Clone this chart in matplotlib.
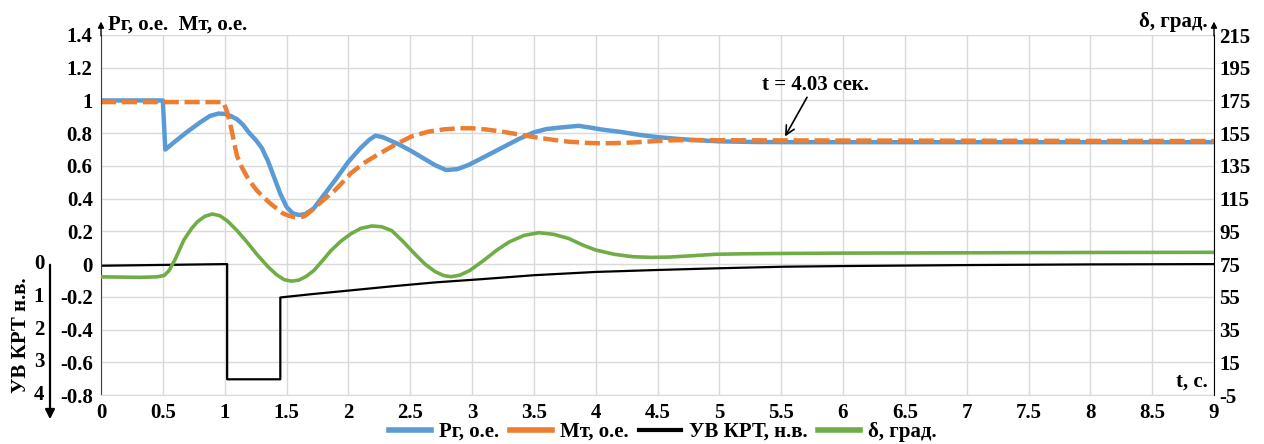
import matplotlib
matplotlib.use('Agg')
import matplotlib.pyplot as plt
from matplotlib.lines import Line2D
from matplotlib.ticker import MultipleLocator, FuncFormatter

# Рг, о.е. (active power)
t_pg = [0, 0.50, 0.52, 0.6, 0.7, 0.8, 0.88, 0.95, 1.0, 1.05, 1.1, 1.15, 1.2, 1.25,
        1.3, 1.35, 1.4, 1.45, 1.5, 1.55, 1.6, 1.65, 1.72, 1.8, 1.9, 2.0, 2.1, 2.17,
        2.22, 2.28, 2.4, 2.5, 2.6, 2.7, 2.79, 2.88, 2.97, 3.1, 3.24, 3.38, 3.5, 3.6,
        3.72, 3.86, 3.95, 4.05, 4.2, 4.35, 4.5, 4.65, 4.8, 5.0, 5.3, 5.6, 6, 7, 8, 9]
pg = [1.0, 1.0, 0.70, 0.75, 0.81, 0.865, 0.905, 0.92, 0.918, 0.905, 0.885, 0.85,
      0.80, 0.76, 0.71, 0.63, 0.53, 0.43, 0.35, 0.31, 0.30, 0.305, 0.34, 0.42,
      0.52, 0.625, 0.71, 0.76, 0.785, 0.775, 0.735, 0.695, 0.65, 0.605, 0.575,
      0.58, 0.605, 0.655, 0.71, 0.765, 0.805, 0.825, 0.835, 0.845, 0.835, 0.822,
      0.808, 0.79, 0.776, 0.766, 0.758, 0.75, 0.746, 0.745, 0.745, 0.745, 0.745,
      0.745]

# Мт, о.е. (turbine torque)
t_mt = [0, 0.99, 1.02, 1.05, 1.08, 1.1, 1.14, 1.18, 1.22, 1.26, 1.32, 1.37, 1.42,
        1.47, 1.52, 1.56, 1.6, 1.65, 1.7, 1.75, 1.82, 1.89, 1.96, 2.02, 2.12, 2.24,
        2.38, 2.51, 2.65, 2.78, 2.9, 3.0, 3.12, 3.24, 3.38, 3.51, 3.65, 3.78, 3.92,
        4.05, 4.2, 4.32, 4.45, 4.6, 4.8, 5.0, 6, 7, 8, 9]
mt = [0.99, 0.99, 0.93, 0.84, 0.73, 0.66, 0.59, 0.535, 0.49, 0.45, 0.405, 0.37,
      0.34, 0.31, 0.295, 0.288, 0.283, 0.295, 0.325, 0.36, 0.405, 0.45, 0.505,
      0.555, 0.615, 0.67, 0.73, 0.78, 0.81, 0.824, 0.83, 0.83, 0.822, 0.81, 0.792,
      0.775, 0.76, 0.748, 0.741, 0.738, 0.74, 0.744, 0.75, 0.756, 0.758, 0.757,
      0.755, 0.754, 0.753, 0.752]

# УВ КРТ, н.в. (axis points down: 0 at top, 4 at bottom)
t_uv = [0, 1.02, 1.02, 1.45, 1.45, 1.7, 2.0, 2.35, 2.7, 3.08, 3.5, 4.0, 4.5, 4.97,
        5.52, 6, 7, 8, 9]
uv = [0.05, 0.0, 3.52, 3.52, 1.02, 0.92, 0.81, 0.68, 0.56, 0.46, 0.34, 0.24, 0.18,
      0.13, 0.08, 0.06, 0.03, 0.01, 0.0]

# δ, град.
t_d = [0, 0.32, 0.45, 0.51, 0.55, 0.6, 0.67, 0.73, 0.78, 0.84, 0.9, 0.96, 1.02,
       1.1, 1.18, 1.26, 1.35, 1.42, 1.48, 1.54, 1.6, 1.66, 1.72, 1.79, 1.86, 1.94,
       2.02, 2.1, 2.19, 2.27, 2.35, 2.44, 2.54, 2.62, 2.7, 2.77, 2.83, 2.9, 2.98,
       3.08, 3.2, 3.3, 3.42, 3.54, 3.66, 3.78, 3.9, 4.0, 4.15, 4.3, 4.45, 4.6, 4.8,
       4.97, 5.2, 5.52, 6, 7, 8, 9]
delta = [67.2, 66.9, 67.2, 68.0, 71.0, 78.0, 89.7, 96.5, 100.9, 104.2, 105.6,
         104.6, 101.5, 95.5, 88.5, 81.0, 73.4, 68.5, 65.5, 64.6, 65.2, 67.5, 71.0,
         77.0, 83.3, 89.0, 93.5, 96.8, 98.3, 97.8, 95.5, 89.0, 81.0, 75.0, 70.5,
         68.0, 67.3, 68.2, 71.0, 76.4, 83.5, 88.5, 92.5, 94.2, 93.2, 90.7, 86.5,
         83.6, 81.0, 79.5, 79.1, 79.3, 80.2, 81.0, 81.3, 81.5, 81.7, 81.9, 82.1,
         82.2]

legend_labels = ['Рг, о.е.', 'Мт, о.е.', 'УВ КРТ, н.в.', 'δ, град.']

C_BLUE = '#5B9BD5'
C_ORANGE = '#ED7D31'
C_GREEN = '#70AD47'

plt.rcParams['font.family'] = ['Liberation Serif', 'DejaVu Serif']
plt.rcParams['font.weight'] = 'bold'
plt.rcParams['font.size'] = 15
plt.rcParams['axes.unicode_minus'] = False

W, H = 1264, 444
fig = plt.figure(figsize=(W / 100, H / 100), dpi=100)
ax = fig.add_axes([101 / W, 49 / H, 1113 / W, 360 / H])


def fmt(v, pos=None):
    s = f"{v:.2f}".rstrip('0').rstrip('.')
    return '0' if s == '-0' else s


ax.set_xlim(0, 9)
ax.set_ylim(-0.8, 1.4)
ax.xaxis.set_major_locator(MultipleLocator(0.5))
ax.yaxis.set_major_locator(MultipleLocator(0.2))
ax.xaxis.set_major_formatter(FuncFormatter(fmt))
ax.yaxis.set_major_formatter(FuncFormatter(fmt))
ax.grid(color='#d9d9d9', lw=1)
ax.set_axisbelow(True)
ax.tick_params(length=0, pad=6)
ax.spines['top'].set_visible(False)
ax.spines['right'].set_visible(False)
ax.spines['bottom'].set_color('#d9d9d9')
ax.spines['left'].set_color('#404040')

ax.plot(t_pg, pg, color=C_BLUE, lw=3.2, solid_joinstyle='round')
ax.plot(t_mt, mt, color=C_ORANGE, lw=3.2, dashes=(3.4, 1.3))
ax.plot(t_uv, [-v / 5 for v in uv], color='black', lw=1.6)

ax2 = ax.twinx()
ax2.set_ylim(-5, 215)
ax2.set_yticks(range(-5, 216, 20))
ax2.tick_params(length=0, pad=4)
for side in ['top', 'left', 'bottom']:
    ax2.spines[side].set_visible(False)
ax2.spines['right'].set_color('black')
ax2.plot(t_d, delta, color=C_GREEN, lw=2.6, solid_joinstyle='round')

# axis arrows and titles
arrow = dict(arrowstyle='-|>', color='black', lw=1.0, mutation_scale=9)
ax.annotate('', xy=(0, 1.045), xytext=(0, 0.99), xycoords='axes fraction',
            arrowprops=arrow, annotation_clip=False)
ax.annotate('', xy=(1, 1.045), xytext=(1, 0.99), xycoords='axes fraction',
            arrowprops=arrow, annotation_clip=False)
ax.text(0.006, 1.03, 'Рг, о.е.  Мт, о.е.', transform=ax.transAxes,
        ha='left', va='center')
ax.text(0.9946, 1.035, 'δ, град.', transform=ax.transAxes,
        ha='right', va='center')
ax.text(0.9946, 0.036, 't, с.', transform=ax.transAxes, ha='right', va='center')

# inverted УВ КРТ scale on the far left
for k in range(5):
    ax.text(-0.0557, -0.2 * k, str(k), transform=ax.get_yaxis_transform(),
            ha='center', va='center')
ax.annotate('', xy=(50 / W, 1 - 422 / H), xytext=(50 / W, 1 - 262 / H),
            xycoords='figure fraction',
            arrowprops=dict(arrowstyle='-|>', color='black', lw=1.6,
                            mutation_scale=14))
fig.text(21 / W, 1 - 335 / H, 'УВ КРТ н.в.', rotation=90, ha='center', va='center')

# settling time marker
ax.text(5.78, 1.095, 't = 4.03 сек.', ha='center', va='center')
ax.annotate('', xy=(5.52, 0.765), xytext=(5.72, 1.034),
            arrowprops=dict(arrowstyle='->', color='black', lw=1.2,
                            mutation_scale=16))

handles = [Line2D([], [], color=C_BLUE, lw=4),
           Line2D([], [], color=C_ORANGE, lw=4),
           Line2D([], [], color='black', lw=3),
           Line2D([], [], color=C_GREEN, lw=4)]
fig.legend(handles, legend_labels, loc='center', bbox_to_anchor=(663 / W, 1 - 432 / H),
           ncol=4, frameon=False, handlelength=2.0, handletextpad=0.4,
           columnspacing=0.5, borderpad=0)

fig.savefig('out.png', dpi=100)
